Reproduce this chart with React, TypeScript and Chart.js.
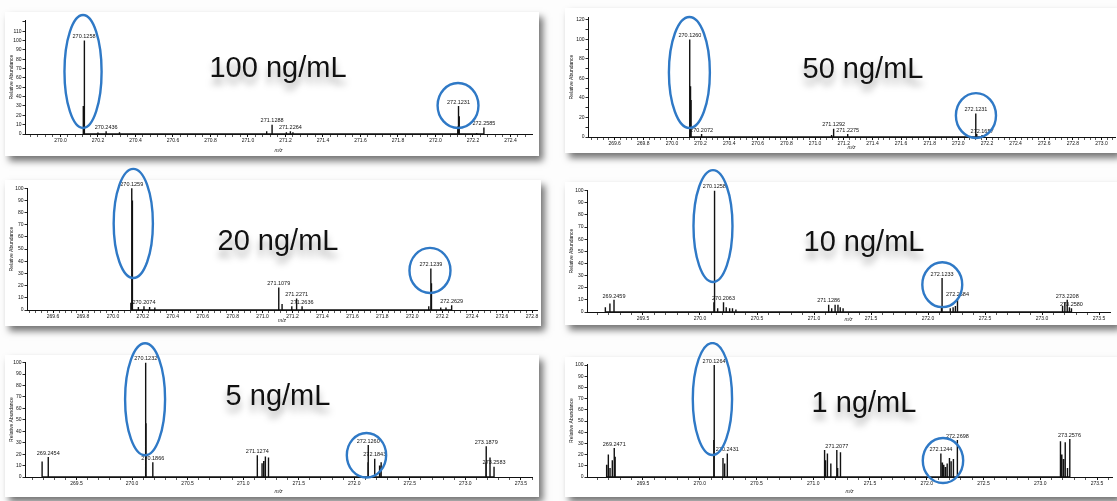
import React, { useEffect, useRef } from 'react';
import { Chart, registerables } from 'chart.js';

Chart.register(...registerables);
Chart.defaults.font.family = '"Liberation Sans", Arial, sans-serif';

// ---------- Panel 1 : 100 ng/mL ----------
const P1_MZ = [270.122, 270.1258, 270.129, 270.2, 270.2436, 270.315, 271.1, 271.1288, 271.205, 271.2264, 271.24, 272.119, 272.1231, 272.127, 272.22, 272.2585];
const P1_INT = [30, 100, 65, 1.5, 3, 2, 3, 10, 2, 3, 2, 8, 30, 19, 1, 7];
const P1_LABELS = [270.1258, 270.2436, 271.1288, 271.2264, 272.1231, 272.2585];
const P1_X_MAJOR = [270.0, 270.2, 270.4, 270.6, 270.8, 271.0, 271.2, 271.4, 271.6, 271.8, 272.0, 272.2, 272.4];
const P1_Y_TICKS = [0, 10, 20, 30, 40, 50, 60, 70, 80, 90, 100, 110];
const P1_RINGS = [[270.1205, 0.099, 6.4, 127.3], [272.1205, 0.109, 6.4, 54.5]];

// ---------- Panel 2 : 50 ng/mL ----------
const P2_MZ = [270.122, 270.126, 270.13, 270.134, 270.2072, 271.115, 271.1292, 271.2275, 272.12, 272.1231, 272.129, 272.1657];
const P2_INT = [5, 100, 52, 38, 3, 2, 8.5, 3, 4, 24, 3, 2];
const P2_LABELS = [270.126, 270.2072, 271.1292, 271.2275, 272.1231, 272.1657];
const P2_X_MAJOR = [269.6, 269.8, 270.0, 270.2, 270.4, 270.6, 270.8, 271.0, 271.2, 271.4, 271.6, 271.8, 272.0, 272.2, 272.4, 272.6, 272.8, 273.0];
const P2_Y_TICKS = [0, 20, 40, 60, 80, 100, 120];
const P2_RINGS = [[270.122, 0.143, 9.2, 123], [272.123, 0.14, -1, 45]];

// ---------- Panel 3 : 20 ng/mL ----------
const P3_MZ = [270.12, 270.1259, 270.1275, 270.129, 270.133, 270.17, 270.2074, 270.245, 270.28, 271.1079, 271.13, 271.195, 271.2271, 271.2636, 272.11, 272.1239, 272.128, 272.19, 272.225, 272.2629];
const P3_INT = [6, 100, 90, 72, 25, 2.5, 3, 2.5, 2, 18.5, 5, 3, 9.5, 3, 3, 34, 22, 2, 2, 4];
const P3_LABELS = [270.1259, 270.2074, 271.1079, 271.2271, 271.2636, 272.1239, 272.2629];
const P3_X_MAJOR = [269.6, 269.8, 270.0, 270.2, 270.4, 270.6, 270.8, 271.0, 271.2, 271.4, 271.6, 271.8, 272.0, 272.2, 272.4, 272.6, 272.8];
const P3_Y_TICKS = [0, 10, 20, 30, 40, 50, 60, 70, 80, 90, 100];
const P3_RINGS = [[270.136, 0.131, 26.3, 115.9], [272.118, 0.137, 14, 51]];

// ---------- Panel 4 : 10 ng/mL ----------
const P4_MZ = [269.17, 269.21, 269.2459, 270.122, 270.1258, 270.129, 270.155, 270.2063, 270.23, 270.26, 270.285, 270.315, 271.1286, 271.155, 271.185, 271.21, 271.23, 271.255, 272.118, 272.1233, 272.195, 272.22, 272.24, 272.2584, 273.18, 273.2, 273.2208, 273.24, 273.258];
const P4_INT = [4, 7, 10, 8, 100, 66, 3, 8, 4, 3, 3, 2, 6, 3, 6, 6, 4, 3, 4, 28, 3, 4, 5, 11, 5, 8, 10, 4, 3];
const P4_LABELS = [269.2459, 270.1258, 270.2063, 271.1286, 272.1233, 272.2584, 273.2208, 273.258];
const P4_X_MAJOR = [269.5, 270.0, 270.5, 271.0, 271.5, 272.0, 272.5, 273.0, 273.5];
const P4_Y_TICKS = [0, 10, 20, 30, 40, 50, 60, 70, 80, 90, 100];
const P4_RINGS = [[270.114, 0.171, 24.7, 117], [272.125, 0.175, 4, 41]];

// ---------- Panel 5 : 5 ng/mL ----------
const P5_MZ = [269.19, 269.2454, 270.121, 270.1232, 270.126, 270.1866, 271.1274, 271.17, 271.185, 271.2, 271.228, 272.123, 272.126, 272.1843, 272.228, 272.242, 273.185, 273.1879, 273.222, 273.2583];
const P5_INT = [13.5, 17.5, 70, 100, 47, 13, 19, 12, 14, 18, 17, 13, 28, 16, 10, 13, 13, 27, 17, 9];
const P5_LABELS = [269.2454, 270.1232, 270.1866, 271.1274, 272.126, 272.1843, 273.1879, 273.2583];
const P5_X_MAJOR = [269.5, 270.0, 270.5, 271.0, 271.5, 272.0, 272.5, 273.0, 273.5];
const P5_Y_TICKS = [0, 10, 20, 30, 40, 50, 60, 70, 80, 90, 100];
const P5_RINGS = [[270.117, 0.18, 19, 117], [272.11, 0.177, -0.5, 38.5]];

// ---------- Panel 6 : 1 ng/mL ----------
const P6_MZ = [269.18, 269.195, 269.21, 269.23, 269.2471, 269.255, 270.124, 270.1264, 270.129, 270.205, 270.22, 270.2431, 271.1, 271.108, 271.125, 271.155, 271.2077, 271.215, 271.24, 272.1244, 272.138, 272.15, 272.165, 272.18, 272.2, 272.215, 272.235, 272.2698, 273.178, 273.19, 273.205, 273.22, 273.24, 273.2576, 273.262];
const P6_INT = [11, 20, 8, 15, 26, 18, 33, 100, 88, 17, 12, 21, 24, 15, 21, 12, 24, 8, 22, 21, 13, 11, 9, 12, 17, 14, 16, 33, 32, 20, 16, 31, 8, 34, 20];
const P6_LABELS = [269.2471, 270.1264, 270.2431, 271.2077, 272.1244, 272.2698, 273.2576];
const P6_X_MAJOR = [269.5, 270.0, 270.5, 271.0, 271.5, 272.0, 272.5, 273.0, 273.5];
const P6_Y_TICKS = [0, 10, 20, 30, 40, 50, 60, 70, 80, 90, 100];
const P6_RINGS = [[270.112, 0.173, 19.6, 119.6], [272.143, 0.178, -5.4, 34.8]];

const TITLES = ['100 ng/mL', '50 ng/mL', '20 ng/mL', '10 ng/mL', '5 ng/mL', '1 ng/mL'];

const OVER = 15;

type Box = { l: number; t: number; r: number; b: number };
type PanelCfg = {
  title: string;
  mz: number[];
  ints: number[];
  labels: number[];
  xMajor: number[];
  xMinor: number;
  yMajor: number[];
  yMinor: number;
  xMin: number;
  xMax: number;
  yMax: number;
  rings: number[][];
  box: Box;
  area: Box;
  tx: number;
  ty: number;
};

const PANELS: PanelCfg[] = [
  { title: TITLES[0], mz: P1_MZ, ints: P1_INT, labels: P1_LABELS, xMajor: P1_X_MAJOR, xMinor: 0.04, yMajor: P1_Y_TICKS, yMinor: 10, xMin: 269.811, xMax: 272.515, yMax: 121.9, rings: P1_RINGS,
    box: { l: 5, t: 12, r: 539, b: 156 }, area: { l: 25, t: 20, r: 532, b: 134 }, tx: 278, ty: 67 },
  { title: TITLES[1], mz: P2_MZ, ints: P2_INT, labels: P2_LABELS, xMajor: P2_X_MAJOR, xMinor: 0.04, yMajor: P2_Y_TICKS, yMinor: 10, xMin: 269.414, xMax: 273.094, yMax: 123, rings: P2_RINGS,
    box: { l: 565, t: 8, r: 1117, b: 153 }, area: { l: 588, t: 17, r: 1115, b: 137 }, tx: 863, ty: 68 },
  { title: TITLES[2], mz: P3_MZ, ints: P3_INT, labels: P3_LABELS, xMajor: P3_X_MAJOR, xMinor: 0.04, yMajor: P3_Y_TICKS, yMinor: 10, xMin: 269.426, xMax: 272.833, yMax: 100.2, rings: P3_RINGS,
    box: { l: 5, t: 180, r: 541, b: 326 }, area: { l: 27, t: 188, r: 537, b: 310 }, tx: 278, ty: 240 },
  { title: TITLES[3], mz: P4_MZ, ints: P4_INT, labels: P4_LABELS, xMajor: P4_X_MAJOR, xMinor: 0.1, yMajor: P4_Y_TICKS, yMinor: 10, xMin: 269.009, xMax: 273.596, yMax: 100.6, rings: P4_RINGS,
    box: { l: 565, t: 182, r: 1117, b: 325 }, area: { l: 587, t: 190, r: 1110, b: 312 }, tx: 864, ty: 241 },
  { title: TITLES[4], mz: P5_MZ, ints: P5_INT, labels: P5_LABELS, xMajor: P5_X_MAJOR, xMinor: 0.1, yMajor: P5_Y_TICKS, yMinor: 10, xMin: 269.036, xMax: 273.6, yMax: 100.6, rings: P5_RINGS,
    box: { l: 5, t: 355, r: 539, b: 497 }, area: { l: 25, t: 362, r: 532, b: 477 }, tx: 278, ty: 395 },
  { title: TITLES[5], mz: P6_MZ, ints: P6_INT, labels: P6_LABELS, xMajor: P6_X_MAJOR, xMinor: 0.1, yMajor: P6_Y_TICKS, yMinor: 10, xMin: 269.007, xMax: 273.632, yMax: 100.9, rings: P6_RINGS,
    box: { l: 565, t: 357, r: 1117, b: 497 }, area: { l: 587, t: 364, r: 1112, b: 477 }, tx: 864, ty: 402 },
];

function spikes(mz: number[], ints: number[]) {
  const idx = mz.map((_, i) => i).sort((a, b) => mz[a] - mz[b]);
  const pts: { x: number; y: number }[] = [];
  for (const i of idx) {
    pts.push({ x: mz[i], y: 0 }, { x: mz[i], y: ints[i] }, { x: mz[i], y: 0 });
  }
  return pts;
}

function stepTicks(min: number, max: number, step: number) {
  const out: number[] = [];
  const s = Math.ceil(min / step - 1e-9);
  const e = Math.floor(max / step + 1e-9);
  for (let k = s; k <= e; k++) out.push(+(k * step).toFixed(6));
  return out;
}

const isIn = (v: number, list: number[]) => list.some((m) => Math.abs(m - v) < 1e-6);

function SpectrumPanel({ cfg }: { cfg: PanelCfg }) {
  const ref = useRef<HTMLCanvasElement>(null);
  const { box, area } = cfg;
  const cTop = box.t - OVER;
  const cw = box.r - box.l;
  const ch = box.b - cTop;

  useEffect(() => {
    if (!ref.current) return;
    const xTicks = stepTicks(cfg.xMin, cfg.xMax, cfg.xMinor);
    const yTicks = stepTicks(0, cfg.yMax, cfg.yMinor);

    const peakLabels = {
      id: 'peakLabels',
      afterDatasetsDraw(chart: any) {
        const { ctx, scales } = chart;
        ctx.save();
        ctx.fillStyle = '#111';
        ctx.font = '5.5px "Liberation Sans", Arial, sans-serif';
        ctx.textAlign = 'center';
        ctx.textBaseline = 'bottom';
        cfg.labels.forEach((m) => {
          const i = cfg.mz.findIndex((v) => Math.abs(v - m) < 1e-6);
          if (i < 0) return;
          const px = scales.x.getPixelForValue(m);
          const py = scales.y.getPixelForValue(cfg.ints[i]);
          ctx.fillText(m.toFixed(4), px, py - 1);
        });
        ctx.restore();
      },
    };

    const rings = {
      id: 'rings',
      afterDraw(chart: any) {
        const { ctx, scales } = chart;
        ctx.save();
        ctx.strokeStyle = '#2f79c6';
        ctx.lineWidth = 2.4;
        cfg.rings.forEach(([c, hw, lo, hi]) => {
          const px = scales.x.getPixelForValue(c);
          const rx = Math.abs(scales.x.getPixelForValue(c + hw) - px);
          const yT = scales.y.getPixelForValue(hi);
          const yB = scales.y.getPixelForValue(lo);
          ctx.beginPath();
          ctx.ellipse(px, (yT + yB) / 2, rx, Math.abs(yB - yT) / 2, 0, 0, Math.PI * 2);
          ctx.stroke();
        });
        ctx.restore();
      },
    };

    const chart = new Chart(ref.current, {
      type: 'scatter',
      data: {
        datasets: [
          {
            data: spikes(cfg.mz, cfg.ints),
            showLine: true,
            borderColor: '#111',
            borderWidth: 1.4,
            pointRadius: 0,
            tension: 0,
          } as any,
        ],
      },
      options: {
        animation: false,
        responsive: false,
        devicePixelRatio: 1,
        events: [],
        layout: { padding: { top: area.t - cTop, right: box.r - area.r, left: 0, bottom: 0 } },
        plugins: { legend: { display: false }, tooltip: { enabled: false } },
        scales: {
          x: {
            type: 'linear',
            min: cfg.xMin,
            max: cfg.xMax,
            afterFit: (s: any) => {
              s.height = box.b - area.b;
            },
            afterBuildTicks: (s: any) => {
              s.ticks = xTicks.map((v) => ({ value: v }));
            },
            ticks: {
              autoSkip: false,
              maxRotation: 0,
              minRotation: 0,
              padding: 1,
              color: '#111',
              font: { size: 5 },
              callback: (v: any) => (isIn(Number(v), cfg.xMajor) ? Number(v).toFixed(1) : ''),
            },
            grid: {
              drawOnChartArea: false,
              tickLength: 3,
              tickColor: '#111',
              tickWidth: (c: any) => (c.tick && isIn(c.tick.value, cfg.xMajor) ? 1 : 0.7),
            },
            border: { display: true, color: '#111', width: 1 },
            title: { display: true, text: 'm/z', color: '#111', font: { size: 5, style: 'italic' }, padding: { top: 0, bottom: 2 } },
          },
          y: {
            type: 'linear',
            min: 0,
            max: cfg.yMax,
            afterFit: (s: any) => {
              s.width = area.l - box.l;
            },
            afterBuildTicks: (s: any) => {
              s.ticks = yTicks.map((v) => ({ value: v }));
            },
            ticks: {
              autoSkip: false,
              padding: 1,
              color: '#111',
              font: { size: 5 },
              callback: (v: any) => (isIn(Number(v), cfg.yMajor) ? String(v) : ''),
            },
            grid: {
              drawOnChartArea: false,
              tickLength: 2.5,
              tickColor: '#111',
              tickWidth: 0.9,
            },
            border: { display: true, color: '#111', width: 1 },
            title: { display: true, text: 'Relative Abundance', color: '#111', font: { size: 5 }, padding: { top: 3.5, bottom: 0 } },
          },
        },
      } as any,
      plugins: [peakLabels, rings],
    });
    return () => chart.destroy();
  }, []);

  return (
    <>
      <div
        style={{
          position: 'absolute',
          left: box.l,
          top: box.t,
          width: cw,
          height: box.b - box.t,
          background: '#fff',
          boxShadow: '4px 5px 7px rgba(0,0,0,0.55)',
        }}
      />
      <canvas
        ref={ref}
        width={cw}
        height={ch}
        style={{ position: 'absolute', left: box.l, top: cTop, width: cw, height: ch }}
      />
      <div
        style={{
          position: 'absolute',
          left: cfg.tx,
          top: cfg.ty,
          transform: 'translate(-50%, -50%)',
          whiteSpace: 'nowrap',
          fontFamily: '"Liberation Sans", Arial, sans-serif',
          fontSize: 29,
          lineHeight: 1,
          color: '#111',
          textShadow: '0px 7px 7px rgba(0,0,0,0.35)',
          pointerEvents: 'none',
        }}
      >
        {cfg.title}
      </div>
    </>
  );
}

export default function App() {
  return (
    <div
      style={{
        position: 'fixed',
        left: 0,
        top: 0,
        width: 1117,
        height: 501,
        background: '#fdfdfd',
        overflow: 'hidden',
      }}
    >
      {PANELS.map((p, i) => (
        <SpectrumPanel key={i} cfg={p} />
      ))}
    </div>
  );
}
